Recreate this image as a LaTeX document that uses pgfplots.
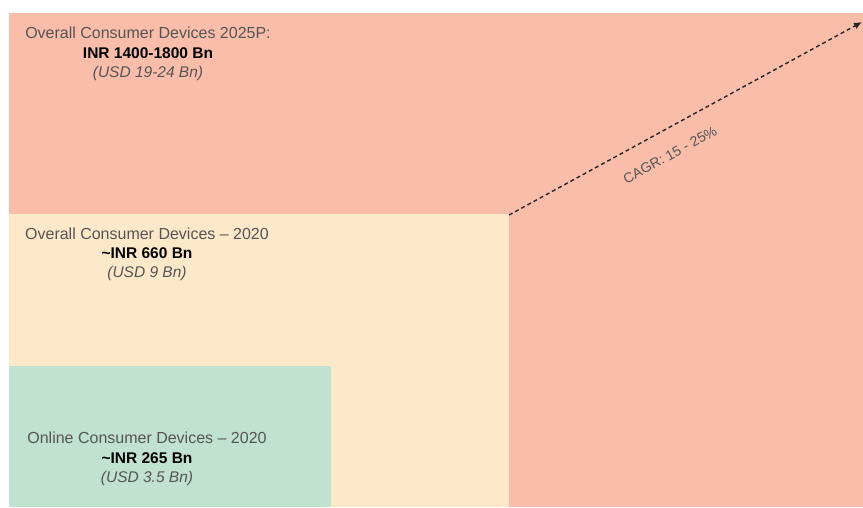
\documentclass[border=0pt]{standalone}
\usepackage{fontspec}
\setmainfont{Liberation Sans}
\usepackage{pgfplots}
\pgfplotsset{compat=1.18}
\usetikzlibrary{arrows.meta}
\definecolor{salmon}{HTML}{FABDAA}
\definecolor{cream}{HTML}{FEE8CA}
\definecolor{mint}{HTML}{C1E2D0}
\definecolor{txtgray}{HTML}{555555}
\begin{document}
\begin{tikzpicture}
\begin{axis}[
  width=863pt, height=507pt, scale only axis,
  xmin=0, xmax=863, ymin=0, ymax=507, y dir=reverse,
  hide axis, clip=false,
]
\path (rel axis cs:0,0) rectangle (rel axis cs:1,1);
% Overall 2025P
\addplot[fill=salmon, draw=none] coordinates {(9,13) (863,13) (863,507) (9,507)} -- cycle;
% Overall 2020
\addplot[fill=cream, draw=none] coordinates {(9,214) (509,214) (509,507) (9,507)} -- cycle;
% Online 2020
\addplot[fill=mint, draw=none] coordinates {(9,366) (331,366) (331,507) (9,507)} -- cycle;
% CAGR arrow
\addplot[black!85, line width=1.4pt, dash pattern=on 4pt off 3pt, -{Latex[length=8pt,width=7pt]}] coordinates {(509,215) (862,22)};

\node[font=\fontsize{16}{18}\selectfont, text=txtgray] at (axis cs:148,33) {Overall Consumer Devices 2025P:};
\node[font=\fontsize{15.5}{18}\selectfont\bfseries, text=black] at (axis cs:148,53) {INR 1400-1800 Bn};
\node[font=\fontsize{15.5}{18}\selectfont\itshape, text=txtgray] at (axis cs:148,73) {(USD 19-24 Bn)};

\node[font=\fontsize{16}{18}\selectfont, text=txtgray] at (axis cs:147,234) {Overall Consumer Devices – 2020};
\node[font=\fontsize{15.5}{18}\selectfont\bfseries, text=black] at (axis cs:147,253) {\textasciitilde INR 660 Bn};
\node[font=\fontsize{15.5}{18}\selectfont\itshape, text=txtgray] at (axis cs:147,273) {(USD 9 Bn)};

\node[font=\fontsize{16}{18}\selectfont, text=txtgray] at (axis cs:147,438) {Online Consumer Devices – 2020};
\node[font=\fontsize{15.5}{18}\selectfont\bfseries, text=black] at (axis cs:147,458) {\textasciitilde INR 265 Bn};
\node[font=\fontsize{15.5}{18}\selectfont\itshape, text=txtgray] at (axis cs:147,478) {(USD 3.5 Bn)};

\node[font=\fontsize{14}{16}\selectfont, text=txtgray, rotate=28.7] at (axis cs:670,155) {CAGR: 15 - 25\%};
\end{axis}
\end{tikzpicture}
\end{document}
